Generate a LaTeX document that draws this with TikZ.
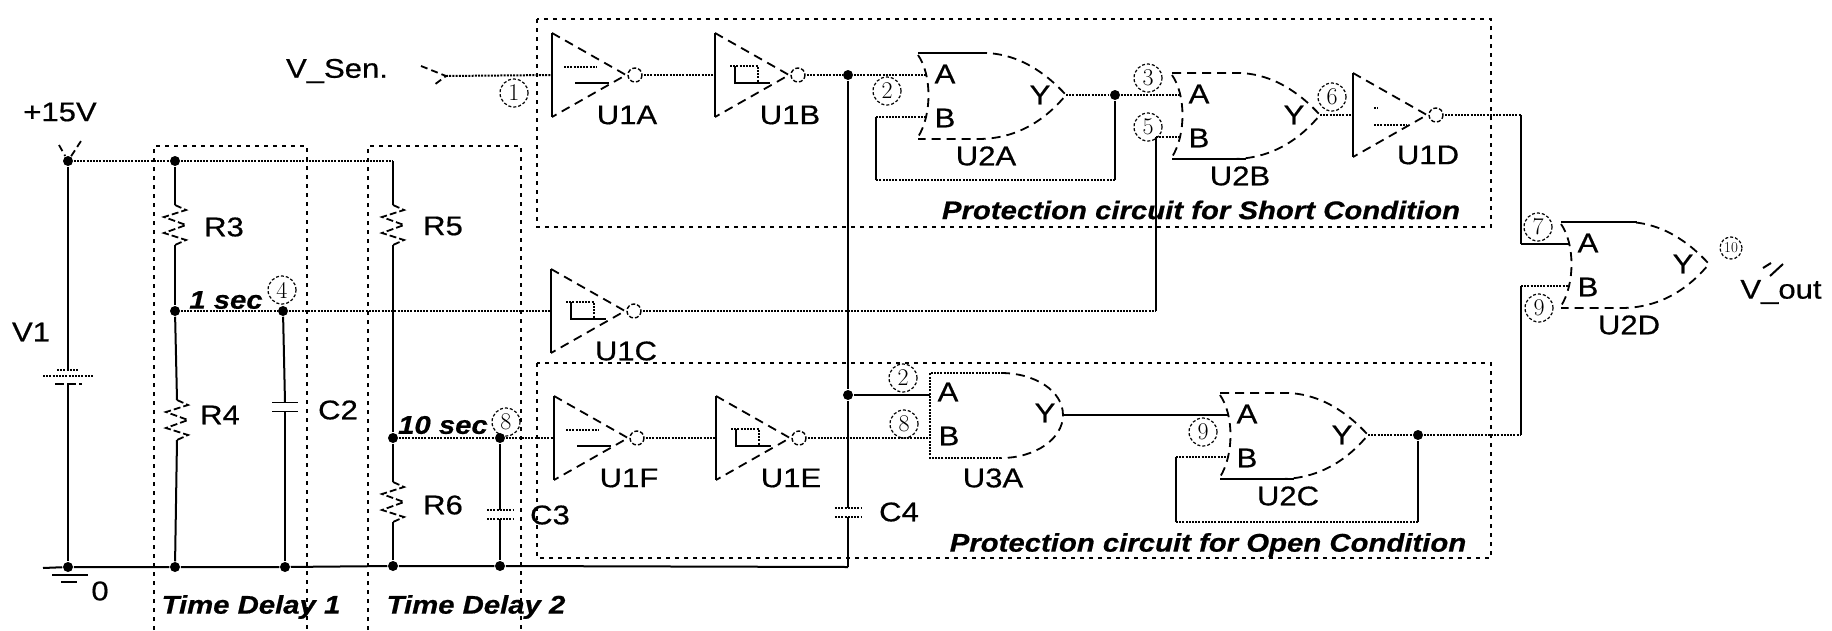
\documentclass[tikz,border=0pt]{standalone}
\usepackage{fontspec}
\setsansfont[FakeStretch=1.15,FakeBold=0.6]{Liberation Sans}
\usetikzlibrary{calc}

\begin{document}
\begin{tikzpicture}[x=1pt,y=-1pt,line width=1.5pt,
wire/.style ={line width=2pt},
dwire/.style ={line width=2pt, dash pattern=on 2pt off 1.2pt},
gline/.style ={line width=1.8pt, dash pattern=on 9pt off 6pt},
bbox/.style ={line width=1.8pt, dash pattern=on 4pt off 5pt},
dot/.style ={circle, fill=black, inner sep=0pt, minimum size=10pt},
lab/.style ={inner sep=0pt, font=\fontsize{27}{29}\selectfont\sffamily},
note/.style ={inner sep=0pt, font=\fontsize{25.5}{27}\selectfont\sffamily\bfseries\itshape},
pinno/.style ={circle, draw, line width=1.2pt, dash pattern=on 3pt off 2pt, inner sep=0pt, minimum size=28pt, font=\fontsize{24}{26}\selectfont\rmfamily},
pics/inv/.style ={code={
  \draw[wire] (0,-42)--(0,42);
  \draw[gline] (0,-42)--(74,0)--(0,42);
  \draw[line width=1.4pt, dash pattern=on 4pt off 2pt] (83,0) circle (7);
  \coordinate (-in) at (0,0);
  \coordinate (-out) at (92,0);
  \draw (75,40) node[lab] (-name) {#1};
}},
pics/barsym/.style ={code={
  \draw[dwire] (12,-8)--(45,-8);
  \draw[wire] (23,8)--(57,8);
}},
pics/boxsym/.style ={code={
  \draw[dwire] (15,-9)--(43,-9)--(43,8);
  \draw[wire] (20,-9)--(20,8)--(55,8);
}},
pics/orgate/.style ={code={
  \draw[gline] (0,-40) .. controls (14,-20) and (14,20) .. (0,42);
  \draw[gline] (0,-42)--(65,-42) .. controls (100,-42) and (128,-22) .. (148,0) .. controls (128,24) and (100,44) .. (60,44)--(0,44);
  \coordinate (-a) at (9,-20);
  \coordinate (-b) at (9,22);
  \coordinate (-y) at (148,0);
  \draw (27,-21) node[lab] (-pa) {A};
  \draw (27,23) node[lab] (-pb) {B};
  \draw (122,0) node[lab] (-py) {Y};
  \draw (68,61) node[lab] (-name) {#1};
}},
pics/andgate/.style ={code={
  \draw[dwire] (71,43)--(0,43)--(0,-42)--(71,-42);
  \draw[gline] (71,-42) .. controls (105,-42) and (133,-24) .. (133,0) .. controls (133,24) and (105,43) .. (71,43);
  \coordinate (-a) at (0,-20);
  \coordinate (-b) at (0,23);
  \coordinate (-y) at (133,0);
  \draw (18,-23) node[lab] (-pa) {A};
  \draw (19,21) node[lab] (-pb) {B};
  \draw (115,-2) node[lab] (-py) {Y};
  \draw (63,63) node[lab] (-name) {#1};
}},
pics/res/.style ={code={
  \draw[line width=1.8pt, dash pattern=on 7pt off 3pt] (0,0)--(11,5)--(-11,12)--(11,20)--(-11,28)--(11,35)--(0,40);
  \coordinate (-t) at (0,0);
  \coordinate (-b) at (0,40);
}},
pics/capa/.style ={code={
  \draw[#1] (-13,-4.5)--(13,-4.5);
  \draw[#1] (-13,4.5)--(13,4.5);
  \coordinate (-t) at (0,-4.5);
  \coordinate (-b) at (0,4.5);
}}
]
\useasboundingbox (0,0) rectangle (1832,630);

\draw[bbox] (154,630)--(154,146)--(307,146)--(307,630);
\draw[bbox] (368,630)--(368,146)--(521,146)--(521,630);
\draw[bbox] (537,19) rectangle (1491,227);
\draw[bbox] (537,363) rectangle (1491,558);

\draw (68,161) node[dot] (Jv) {};
\draw (175,161) node[dot] (Jr3) {};
\draw (393,161) coordinate (Cr5);
\draw (175,311) node[dot] (Jr) {};
\draw (283,311) node[dot] (J1) {};
\draw (393,438) node[dot] (Js) {};
\draw (500,438) node[dot] (J8) {};
\draw (848,75) node[dot] (J2) {};
\draw (848,395) node[dot] (Ju) {};
\draw (1115,95) node[dot] (J3) {};
\draw (1418,435) node[dot] (J9) {};
\draw (68,567) node[dot] (G1) {};
\draw (175,567) node[dot] (G2) {};
\draw (285,567) node[dot] (G3) {};
\draw (393,566) node[dot] (G4) {};
\draw (500,566) node[dot] (G5) {};
\draw (848,567) coordinate (G6);
\draw (43,568) coordinate (G0);

\draw (175,205) pic (R3) {res};
\draw (177,400) pic (R4) {res};
\draw (393,205) pic (R5) {res};
\draw (393,482) pic (R6) {res};
\draw (285,407) pic (C2) {capa=solid};
\draw (500,514) pic (C3) {capa=dwire};
\draw (848,512) pic (C4) {capa=dwire};

\draw (552,75) pic (U1A) {inv=U1A} pic {barsym};
\draw (715,75) pic (U1B) {inv=U1B} pic {boxsym};
\draw (551,311) pic (U1C) {inv=U1C} pic {boxsym};
\draw (1353,115) pic (U1D) {inv=U1D};
\draw (716,438) pic (U1E) {inv=U1E} pic {boxsym};
\draw (554,438) pic (U1F) {inv=U1F} pic {barsym};
\draw (918,95) pic (U2A) {orgate=U2A};
\draw (1172,115) pic (U2B) {orgate=U2B};
\draw (1220,435) pic (U2C) {orgate=U2C};
\draw (1561,264) pic (U2D) {orgate=U2D};
\draw (930,415) pic (U3A) {andgate=U3A};
\draw[wire] (918,53)--(985,53);
\draw[wire] (1172,159)--(1246,159);
\draw[wire] (1220,479)--(1294,479);
\draw[wire] (1561,222)--(1637,222);
\draw[dwire] (1374,125)--(1407,125);
\draw[dwire] (1374,108)--(1378,108);

\draw (60,112) node[lab] (Lv) {+15V};
\draw (337,71) node[lab] (Ls) {V\_Sen.};
\draw (31,332) node[lab] (Lb) {V1};
\draw (100,591) node[lab] (Lg) {0};
\draw (224,227) node[lab] (Lr3) {R3};
\draw (220,415) node[lab] (Lr4) {R4};
\draw (443,226) node[lab] (Lr5) {R5};
\draw (443,505) node[lab] (Lr6) {R6};
\draw (338,410) node[lab] (Lc2) {C2};
\draw (550,515) node[lab] (Lc3) {C3};
\draw (899,512) node[lab] (Lc4) {C4};
\draw (1781,292) node[lab] (Lo) {V\_out};
\draw (226,300) node[note] (Ln1) {1 sec};
\draw (443,425) node[note] (Ln2) {10 sec};
\draw (251,607) node[note] (Ld1) {Time Delay 1};
\draw (476,607) node[note] (Ld2) {Time Delay 2};
\draw (1201,210) node[note] (Lp1) {Protection circuit for Short Condition};
\draw (1208,545) node[note] (Lp2) {Protection circuit for Open Condition};

\draw (514,93) node[pinno] (P1) {1};
\draw (887,91) node[pinno] (P2) {2};
\draw (1148,78) node[pinno] (P3) {3};
\draw (282,290) node[pinno] (P4) {4};
\draw (1148,127) node[pinno] (P5) {5};
\draw (1332,97) node[pinno] (P6) {6};
\draw (1538,227) node[pinno] (P7) {7};
\draw (506,422) node[pinno] (P8) {8};
\draw (1539,308) node[pinno] (P9) {9};
\draw (903,378) node[pinno] (Q2) {2};
\draw (904,424) node[pinno] (Q8) {8};
\draw (1203,432) node[pinno] (Q9) {9};
\draw (1731,248) node[pinno,minimum size=22pt,font=\fontsize{15}{16}\selectfont\rmfamily] (P10) {10};

\draw (421,66) coordinate (Sa);
\draw (446,76) coordinate (Vs);
\draw (434,85) coordinate (Sb);
\draw[gline,dash pattern=on 7pt off 4pt] (Sa)--(Vs)--(Sb);
\draw (59,145) coordinate (Ta);
\draw (81,141) coordinate (Tb);
\draw[gline,dash pattern=on 7pt off 4pt] (Ta)--(Jv)--(Tb);
\draw (1763,268) coordinate (Oa);
\draw (1771,263) coordinate (Ob);
\draw (1770,276) coordinate (Oc);
\draw (1783,264) coordinate (Od);
\draw[wire] (Oa)--(Ob);
\draw[wire] (Oc)--(Od);

\draw[dwire] (Jv)--(Jr3);
\draw[dwire] (Jr3)--(Cr5);
\draw[wire] (Cr5)--(R5-t);
\draw[wire] (Jr3)--(R3-t);
\draw[wire] (R3-b)--(Jr);
\draw[wire] (Jr)--(R4-t);
\draw[wire] (R4-b)--(G2);
\draw[dwire] (Jr)--(J1);
\draw[dwire] (J1)--(U1C-in);
\draw[wire] (J1)--(C2-t);
\draw[wire] (C2-b)--(G3);
\draw[wire] (R5-b)--(Js);
\draw[wire] (Js)--(R6-t);
\draw[wire] (R6-b)--(G4);
\draw[dwire] (Js)--(J8);
\draw[dwire] (J8)--(U1F-in);
\draw[wire] (J8)--(C3-t);
\draw[wire] (C3-b)--(G5);

\draw (68,370) coordinate (Ba);
\draw (68,384) coordinate (Bb);
\draw[wire] (Jv)--(Ba);
\draw[wire] (Bb)--(G1);
\draw[dwire] (57,370)--(79,370);
\draw[dwire] (43,376)--(93,376);
\draw[gline,dash pattern=on 9pt off 3pt] (55,384)--(82,384);
\draw[wire] (52,575)--(88,575);
\draw[wire] (61,582)--(77,582);
\draw[wire] (G0)--(G1)--(G2)--(G3)--(G4)--(G5)--(G6);

\draw[dwire] (Vs)--(U1A-in);
\draw[dwire] (U1A-out)--(U1B-in);
\draw[dwire] (U1B-out)--(J2);
\draw[dwire] (J2)--(U2A-a);
\draw[wire] (J2)--(Ju);
\draw[wire] (Ju)--(C4-t);
\draw[wire] (C4-b)--(G6);
\draw[wire] (Ju)--(U3A-a);

\draw[dwire] (U2A-y)--(J3);
\draw[dwire] (J3)--(U2B-a);
\draw (1115,180) coordinate (Fa);
\draw (876,180) coordinate (Fb);
\draw (876,117) coordinate (Fc);
\draw[wire] (J3)--(Fa);
\draw[dwire] (Fa)--(Fb);
\draw[wire] (Fb)--(Fc);
\draw[dwire] (Fc)--(U2A-b);

\draw (1156,311) coordinate (Ca);
\draw (1156,137) coordinate (Cb);
\draw[dwire] (U1C-out)--(Ca);
\draw[wire] (Ca)--(Cb);
\draw[dwire] (Cb)--(U2B-b);
\draw[dwire] (U2B-y)--(U1D-in);

\draw[dwire] (U1F-out)--(U1E-in);
\draw[dwire] (U1E-out)--(U3A-b);
\draw[wire] (U3A-y)--(U2C-a);
\draw[dwire] (U2C-y)--(J9);
\draw (1418,522) coordinate (Ea);
\draw (1176,522) coordinate (Eb);
\draw (1176,457) coordinate (Ec);
\draw[wire] (J9)--(Ea);
\draw[dwire] (Ea)--(Eb);
\draw[wire] (Eb)--(Ec);
\draw[dwire] (Ec)--(U2C-b);

\draw (1521,115) coordinate (Da);
\draw (1521,244) coordinate (Db);
\draw[dwire] (U1D-out)--(Da);
\draw[wire] (Da)--(Db);
\draw[wire] (Db)--(U2D-a);
\draw (1521,435) coordinate (Dc);
\draw (1521,286) coordinate (Dd);
\draw[dwire] (J9)--(Dc);
\draw[wire] (Dc)--(Dd);
\draw[dwire] (Dd)--(U2D-b);

\end{tikzpicture}
\end{document}
